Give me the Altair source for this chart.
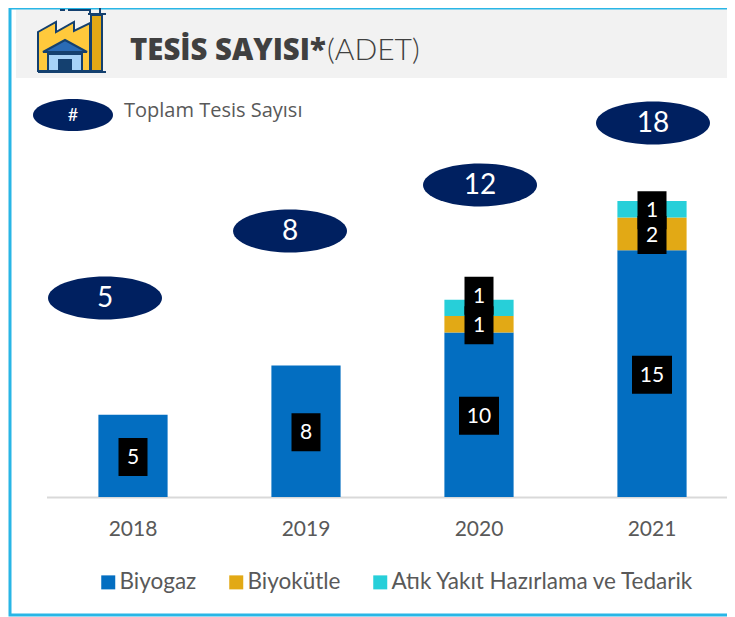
import altair as alt
import pandas as pd

years = ["2018", "2019", "2020", "2021"]
series = ["Biyogaz", "Biyokütle", "Atık Yakıt Hazırlama ve Tedarik"]
colors = ["#036EC1", "#E2A915", "#27CFD9"]
biyogaz = [5, 8, 10, 15]
biyokutle = [0, 0, 1, 2]
atik = [0, 0, 1, 1]
totals = [5, 8, 12, 18]

rows, labels = [], []
for i, y in enumerate(years):
    base = 0
    for j, vals in enumerate([biyogaz, biyokutle, atik]):
        v = vals[i]
        if v == 0:
            continue
        rows.append({"year": y, "series": series[j], "idx": j, "value": v})
        mid = base + v / 2
        if y == "2020" and j == 2:
            mid += 0.8  # label lifted above the bar in the source
        labels.append({"year": y, "mid": mid, "label": str(v)})
        base += v
df = pd.DataFrame(rows)
ldf = pd.DataFrame(labels)
ldf["wide"] = ldf["label"].str.len() > 1

x_scale = alt.Scale(domain=years, range=[38.5, 730.5], paddingInner=0.6, paddingOuter=0.3)
y_scale = alt.Scale(domain=[0, 18], range=[489, 193])
one = alt.Data(values=[{"a": 1}])
FONT = "Lato"


def shape(path, fill=None, stroke=None, sw=0):
    m = alt.Chart(one).mark_point(
        shape=path, size=4, opacity=1,
        fill=fill if fill else "transparent",
        stroke=stroke if stroke else "transparent", strokeWidth=sw,
    )
    return m.encode(x=alt.value(0), y=alt.value(0))


def label(txt, x, y, size, color, font="Open Sans", weight=400, align="center"):
    return alt.Chart(one).mark_text(
        text=txt, font=font, fontSize=size, fontWeight=weight, color=color,
        align=align, baseline="middle",
    ).encode(x=alt.value(x), y=alt.value(y))


def ellipse(txt, cx, cy, w, h, size):
    rx, ry = w / 2, h / 2
    p = f"M{cx-rx},{cy} A{rx},{ry} 0 1 1 {cx+rx},{cy} A{rx},{ry} 0 1 1 {cx-rx},{cy} Z"
    return [shape(p, fill="#002060"), label(txt, cx, cy + 1, size, "white", font="Lato", weight=400)]


NAVY = "#14406F"
frame = [
    shape("M8,0 H719 V70 H8 Z", fill="#F2F2F2"),
    shape("M2,0 H719 M2,0 V607 H719", stroke="#29B6E6", sw=3),
]
icon = [
    shape("M30,24 L48,14 V24 L66,14 V23 L82,15 V63 H30 Z", fill="#FFC93C", stroke=NAVY, sw=2),
    shape("M83,7 H94 V63 H83 Z", fill="#E2A915", stroke=NAVY, sw=2),
    shape("M80,6 H98 M30,64 H98 M49,-3 H92 V6 M52,2 H57 M60,2 H82 V5", stroke=NAVY, sw=2),
    shape("M40,46 H74 V63 H40 Z", fill="#A6D2F7", stroke=NAVY, sw=2),
    shape("M35,44 L57,32 L79,44 Z", fill="#2A6BB5", stroke=NAVY, sw=2),
    shape("M50,51 H64 V63 H50 Z", fill="#14406F"),
]
title = [
    label("TESİS SAYISI*", 122, 43, 29.3, "#404040", weight=800, align="left"),
    label("(ADET)", 319, 43, 30, "#404040", font="Lato", weight=300, align="left"),
    label("Toplam Tesis Sayısı", 116, 103, 20, "#595959", font="Open Sans", align="left"),
]
badges = (
    ellipse("#", 65, 107, 80, 32, 18)
    + ellipse("5", 97, 290, 114, 43, 28)
    + ellipse("8", 282, 223, 114, 43, 28)
    + ellipse("12", 472, 177, 114, 43, 28)
    + ellipse("18", 645, 115, 114, 43, 28)
)

bars = alt.Chart(alt.Data(values=df.to_dict("records"))).mark_bar().encode(
    x=alt.X("year:N", scale=x_scale, sort=years, title=None,
            axis=alt.Axis(labelAngle=0, ticks=False, domainColor="#D9D9D9", domainWidth=2,
                          labelFont=FONT, labelFontSize=21, labelColor="#595959", labelPadding=21)),
    y=alt.Y("value:Q", stack="zero", scale=y_scale, axis=None),
    color=alt.Color("series:N", scale=alt.Scale(domain=series, range=colors),
                    legend=alt.Legend(orient="none", legendX=89, legendY=563, direction="horizontal",
                                      columns=3, title=None, symbolType="square", symbolSize=196,
                                      symbolStrokeWidth=0, labelFont=FONT, labelFontSize=22.5,
                                      labelColor="#595959", columnPadding=28, labelOffset=0,
                                      symbolOffset=0, labelLimit=400)),
    order=alt.Order("idx:Q"),
)

ldata = alt.Data(values=ldf.to_dict("records"))
box = alt.Chart(ldata).mark_point(filled=True, opacity=1, color="black", size=4).encode(
    x=alt.X("year:N", scale=x_scale, sort=years),
    y=alt.Y("mid:Q", scale=y_scale),
    shape=alt.Shape("wide:N", legend=None, scale=alt.Scale(
        domain=[False, True],
        range=["M-14.5,-18 H14.5 V20 H-14.5 Z", "M-20,-18 H20 V20 H-20 Z"])),
)
txt = alt.Chart(ldata).mark_text(font=FONT, fontSize=21, color="white", baseline="middle", dy=2).encode(
    x=alt.X("year:N", scale=x_scale, sort=years),
    y=alt.Y("mid:Q", scale=y_scale),
    text="label:N",
)

chart = alt.layer(*frame, *icon, *title, bars, box, txt, *badges).resolve_scale(
    color="independent", shape="independent"
).properties(
    width=719, height=489,
    padding={"left": 0, "top": 0, "right": 0, "bottom": 120},
    autosize=alt.AutoSizeParams(type="none"),
    background="white",
).configure_view(stroke=None)

chart.save("out.html", embed_options={"renderer": "svg", "actions": False})
